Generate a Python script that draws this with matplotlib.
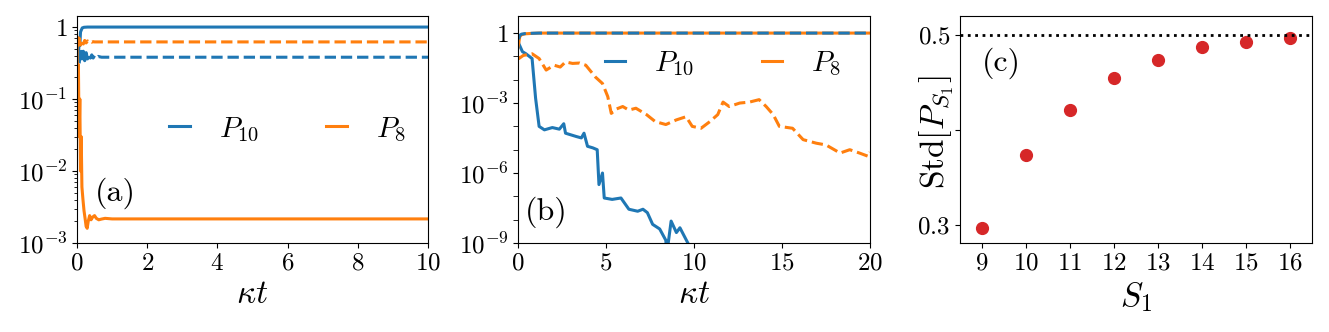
import matplotlib
matplotlib.use("Agg")
import matplotlib.pyplot as plt
from matplotlib.ticker import FixedLocator, FuncFormatter, LogLocator, NullFormatter

plt.rcParams.update({
    "font.family": "serif",
    "font.serif": ["cmr10", "DejaVu Serif"],
    "mathtext.fontset": "cm",
    "axes.unicode_minus": False,
    "axes.formatter.use_mathtext": True,
})

BLUE = "#1f77b4"
ORANGE = "#ff7f0e"
RED = "#d62728"

# ---------------- panel (a) data ----------------
a_t_p10_solid = [0, 0.02, 0.04, 0.06, 0.08, 0.1, 0.12, 0.15, 0.2, 0.3, 10]
a_p10_solid = [0.25, 0.5, 0.35, 0.7, 0.55, 0.85, 0.9, 0.97, 0.99, 0.997, 0.997]

a_t_dashed = [0, 0.03, 0.06, 0.1, 0.14, 0.18, 0.22, 0.26, 0.3, 0.34, 0.38,
              0.42, 0.46, 0.5, 0.55, 0.6, 0.7, 10]
a_p10_dashed = [0.25, 0.45, 0.3, 0.5, 0.36, 0.46, 0.34, 0.44, 0.36, 0.42, 0.37,
                0.41, 0.37, 0.40, 0.375, 0.39, 0.38, 0.38]
a_p8_dashed = [0.75, 0.55, 0.7, 0.56, 0.66, 0.58, 0.65, 0.6, 0.64, 0.61, 0.63,
               0.615, 0.625, 0.62, 0.62, 0.62, 0.62, 0.62]

a_t_p8_solid = [0, 0.02, 0.04, 0.06, 0.08, 0.1, 0.12, 0.14, 0.17, 0.2, 0.23,
                0.26, 0.29, 0.32, 0.36, 0.4, 0.45, 0.5, 0.55, 0.62, 0.7, 0.8, 1.0, 10]
a_p8_solid = [0.6, 0.08, 0.3, 0.03, 0.1, 0.01, 0.03, 0.006, 0.004, 0.0028, 0.0022,
              0.0017, 0.0016, 0.002, 0.0024, 0.0021, 0.0023, 0.0024, 0.0022, 0.0021,
              0.00215, 0.0022, 0.00216, 0.00216]

# ---------------- panel (b) data ----------------
b_t_top = [0, 0.05, 0.1, 0.2, 0.4, 0.8, 1.2, 20]
b_p10_dashed = [0.7, 0.6, 0.8, 0.9, 0.95, 0.98, 1.0, 1.0]
b_p8_solid = [0.25, 0.4, 0.7, 0.85, 0.93, 0.97, 1.0, 1.0]

b_t_p8_dashed = [0.0, 0.05, 0.3, 0.8, 1.2, 1.6, 2.05, 2.4, 2.7, 3.1, 3.5, 3.85,
                 4.4, 4.8, 5.1, 5.3, 5.6, 5.95, 6.3, 6.7, 7.3, 7.8, 8.4, 9.0,
                 9.55, 9.9, 10.4, 10.9, 11.35, 11.65, 12.0, 12.6, 13.15, 13.7,
                 14.1, 14.5, 14.85, 15.6, 16.2, 16.95, 17.5, 18.3, 18.85, 19.4,
                 19.9, 20.0]
b_p8_dashed = [1.0e-1, 8.1e-2, 1.1e-1, 1.3e-1, 8.1e-2, 2.6e-2, 4.2e-2, 3.5e-2,
               5.8e-2, 5.0e-2, 5.2e-2, 4.2e-2, 1.3e-2, 6.9e-3, 1.9e-3, 3.6e-4,
               5.6e-4, 7.1e-4, 5.0e-4, 6.0e-4, 3.2e-4, 1.6e-4, 1.2e-4, 1.9e-4,
               2.6e-4, 1.0e-4, 8.3e-5, 1.6e-4, 3.2e-4, 1.1e-3, 7.1e-4, 1.0e-3,
               1.1e-3, 1.4e-3, 7.1e-4, 3.2e-4, 1.0e-4, 8.3e-5, 2.7e-5, 1.9e-5,
               1.6e-5, 7.2e-6, 1.0e-5, 7.2e-6, 5.2e-6, 7.9e-6]

b_t_p10_solid = [0.0, 0.05, 0.25, 0.45, 0.8, 1.0, 1.2, 1.5, 1.95, 2.35, 2.6, 2.7,
                 3.3, 3.6, 3.75, 3.95, 4.25, 4.5, 4.6, 4.8, 4.9, 5.35, 5.85, 6.3,
                 6.8, 7.1, 7.35, 7.65, 8.05, 8.4, 8.45, 8.7, 9.0, 9.2, 9.65, 9.9]
b_p10_solid = [5.0e-1, 3.5e-1, 1.6e-1, 1.3e-1, 8.1e-2, 1.6e-3, 1.0e-4, 7.1e-5,
               8.9e-5, 7.6e-5, 1.3e-4, 5.1e-5, 3.7e-5, 3.2e-5, 5.1e-5, 1.4e-5,
               1.2e-5, 1.0e-5, 3.2e-7, 1.0e-6, 8.5e-8, 7.4e-8, 8.5e-8, 2.8e-8,
               2.3e-8, 2.8e-8, 2.0e-8, 6.3e-9, 4.0e-9, 1.3e-9, 3.2e-10, 8.7e-9,
               2.8e-9, 4.5e-9, 1.0e-9, 4.0e-10]

# ---------------- panel (c) data ----------------
c_s1 = [9, 10, 11, 12, 13, 14, 15, 16]
c_std = [0.297, 0.374, 0.421, 0.455, 0.474, 0.487, 0.493, 0.497]
c_ref = 0.5

W, H = 1329, 332
fig = plt.figure(figsize=(W / 100, H / 100), dpi=100)

def axrect(l, r, t=16, b=243):
    return [l / W, (H - b) / H, (r - l) / W, (b - t) / H]

axA = fig.add_axes(axrect(77, 428))
axB = fig.add_axes(axrect(518, 870))
axC = fig.add_axes(axrect(960, 1312))

TICK_FS = 18
LAB_FS = 24
LEG_FS = 21

def log_fmt(v, pos):
    import math
    e = int(round(math.log10(v)))
    if e == 0:
        return r"$1$"
    return r"$10^{%d}$" % e

def lin_fmt(v, pos):
    return r"$%g$" % v

for ax in (axA, axB, axC):
    ax.tick_params(labelsize=TICK_FS)
    ax.xaxis.set_major_formatter(FuncFormatter(lin_fmt))

# ---- (a)
lw = 2.2
lA1, = axA.plot(a_t_p10_solid, a_p10_solid, color=BLUE, lw=lw, label=r"$P_{10}$")
axA.plot(a_t_dashed, a_p10_dashed, color=BLUE, lw=lw, ls="--")
lA2, = axA.plot(a_t_p8_solid, a_p8_solid, color=ORANGE, lw=lw, label=r"$P_8$")
axA.plot(a_t_dashed, a_p8_dashed, color=ORANGE, lw=lw, ls="--")
axA.set_yscale("log")
axA.set_xlim(0, 10)
axA.set_ylim(1e-3, 1.42)
axA.set_xticks([0, 2, 4, 6, 8, 10])
axA.yaxis.set_major_locator(FixedLocator([1e-3, 1e-2, 1e-1, 1]))
axA.yaxis.set_major_formatter(FuncFormatter(log_fmt))
axA.yaxis.set_minor_locator(LogLocator(base=10, subs=range(2, 10), numticks=20))
axA.yaxis.set_minor_formatter(NullFormatter())
axA.set_xlabel(r"$\kappa t$", fontsize=LAB_FS)
axA.text(0.108, 0.22, "(a)", transform=axA.transAxes, fontsize=23,
         ha="center", va="center")
axA.legend(handles=[lA1, lA2], ncol=2, frameon=False, fontsize=LEG_FS,
           handlelength=0.7, handletextpad=1.0, columnspacing=2.3,
           loc="center", bbox_to_anchor=(0.6, 0.5))

# ---- (b)
lB1, = axB.plot(b_t_p10_solid, b_p10_solid, color=BLUE, lw=lw, label=r"$P_{10}$")
axB.plot(b_t_p8_dashed, b_p8_dashed, color=ORANGE, lw=lw, ls="--")
lB2, = axB.plot(b_t_top, b_p8_solid, color=ORANGE, lw=lw, label=r"$P_8$")
axB.plot(b_t_top, b_p10_dashed, color=BLUE, lw=lw, ls="--")
axB.set_yscale("log")
axB.set_xlim(0, 20)
axB.set_ylim(1e-9, 5.4)
axB.set_xticks([0, 5, 10, 15, 20])
axB.yaxis.set_major_locator(FixedLocator([1e-9, 1e-6, 1e-3, 1]))
axB.yaxis.set_major_formatter(FuncFormatter(log_fmt))
axB.yaxis.set_minor_locator(FixedLocator([1e-8, 1e-7, 1e-5, 1e-4, 1e-2, 1e-1]))
axB.yaxis.set_minor_formatter(NullFormatter())
axB.tick_params(axis="y", which="minor", length=3.5)
axB.set_xlabel(r"$\kappa t$", fontsize=LAB_FS)
axB.text(0.08, 0.137, "(b)", transform=axB.transAxes, fontsize=23,
         ha="center", va="center")
axB.legend(handles=[lB1, lB2], ncol=2, frameon=False, fontsize=LEG_FS,
           handlelength=0.7, handletextpad=1.0, columnspacing=2.3,
           loc="center", bbox_to_anchor=(0.583, 0.79))

# ---- (c)
axC.plot(c_s1, c_std, "o", color=RED, ms=8.5)
axC.axhline(c_ref, color="black", ls=":", lw=2)
axC.set_xlim(8.5, 16.5)
axC.set_ylim(0.281, 0.52)
axC.set_xticks(c_s1)
axC.set_yticks([0.3, 0.4, 0.5])
axC.yaxis.set_major_formatter(FuncFormatter(
    lambda v, p: "" if abs(v - 0.4) < 1e-6 else r"$%.1f$" % v))
axC.set_xlabel(r"$S_1$", fontsize=LAB_FS)
axC.set_ylabel(r"$\mathrm{Std}[P_{S_1}]$", fontsize=LAB_FS)
axC.yaxis.set_label_coords(-0.01, 0.49)
axC.text(0.117, 0.79, "(c)", transform=axC.transAxes, fontsize=23,
         ha="center", va="center")

fig.savefig("out.png", dpi=100)
